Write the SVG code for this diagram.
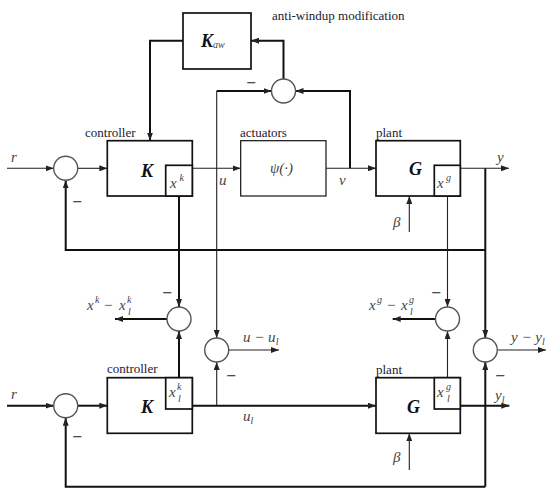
<svg xmlns="http://www.w3.org/2000/svg" width="552" height="489" viewBox="0 0 552 489">
<defs>
<marker id="ah" viewBox="0 0 8 6" refX="8" refY="3" markerWidth="8" markerHeight="6" markerUnits="userSpaceOnUse" orient="auto">
<path d="M0,0 L8,3 L0,6 z" fill="#222"/>
</marker>
</defs>
<style>
.box{fill:#fff;stroke:#111;stroke-width:1.7}
.thinbox{fill:#fff;stroke:#111;stroke-width:1.2}
.sum{fill:#fff;stroke:#555;stroke-width:1.4}
.w1{fill:none;stroke:#222;stroke-width:1.1}
.w2{fill:none;stroke:#111;stroke-width:2}
.lbl{font-family:"Liberation Serif","Times New Roman",serif;font-size:13px;fill:#1a1a33}
.m{font-family:"Liberation Serif","Times New Roman",serif;font-style:italic;font-size:15px;fill:#444}
.ms{font-family:"Liberation Serif","Times New Roman",serif;font-style:italic;font-size:10px;fill:#444}
.big{font-family:"Liberation Serif","Times New Roman",serif;font-style:italic;font-weight:bold;font-size:18px;fill:#111}
.minus{font-family:"DejaVu Sans",sans-serif;font-size:13px;fill:#222}
</style>

<g id="connectors">
<polyline class="w2" points="183,40.7 150,40.7 150,140.7" marker-end="url(#ah)"/>
<polyline class="w2" points="283.5,79 283.5,40.7 251,40.7" marker-end="url(#ah)"/>
<polyline class="w2" points="216.7,91 271.5,91" marker-end="url(#ah)"/>
<polyline class="w2" points="350,168.3 350,91 295.5,91" marker-end="url(#ah)"/>
<line class="w1" x1="7" y1="168.3" x2="53.7" y2="168.3" marker-end="url(#ah)"/>
<line class="w1" x1="77.7" y1="168.3" x2="107.3" y2="168.3" marker-end="url(#ah)"/>
<polyline class="w2" points="485.3,250 65.7,250 65.7,180.3" marker-end="url(#ah)"/>
<line class="w1" x1="192.3" y1="168.3" x2="240.7" y2="168.3" marker-end="url(#ah)"/>
<line class="w1" x1="216.7" y1="91" x2="216.7" y2="338" marker-end="url(#ah)"/>
<line class="w1" x1="326" y1="168.3" x2="376" y2="168.3" marker-end="url(#ah)"/>
<line class="w1" x1="460.3" y1="168.3" x2="509" y2="168.3" marker-end="url(#ah)"/>
<line class="w2" x1="485.3" y1="168.3" x2="485.3" y2="338" marker-end="url(#ah)"/>
<line class="w1" x1="409.3" y1="232" x2="409.3" y2="196" marker-end="url(#ah)"/>
<line class="w1" x1="447.5" y1="196" x2="447.5" y2="307" marker-end="url(#ah)"/>
<line class="w2" x1="179" y1="196" x2="179" y2="307" marker-end="url(#ah)"/>
<line class="w2" x1="167" y1="319" x2="115" y2="319" marker-end="url(#ah)"/>
<line class="w2" x1="179" y1="377.7" x2="179" y2="331" marker-end="url(#ah)"/>
<line class="w1" x1="228.7" y1="350" x2="279" y2="350" marker-end="url(#ah)"/>
<line class="w1" x1="216.7" y1="405.7" x2="216.7" y2="362" marker-end="url(#ah)"/>
<line class="w2" x1="435.5" y1="319" x2="392.7" y2="319" marker-end="url(#ah)"/>
<line class="w1" x1="447.5" y1="377.7" x2="447.5" y2="331" marker-end="url(#ah)"/>
<line class="w1" x1="497.3" y1="350" x2="546" y2="350" marker-end="url(#ah)"/>
<line class="w2" x1="485.3" y1="486.7" x2="485.3" y2="362" marker-end="url(#ah)"/>
<line class="w2" x1="7" y1="405.7" x2="53.7" y2="405.7" marker-end="url(#ah)"/>
<line class="w2" x1="77.7" y1="405.7" x2="107.3" y2="405.7" marker-end="url(#ah)"/>
<polyline class="w2" points="485.3,486.7 65.7,486.7 65.7,417.7" marker-end="url(#ah)"/>
<line class="w2" x1="192.3" y1="405.7" x2="376" y2="405.7" marker-end="url(#ah)"/>
<line class="w2" x1="460.3" y1="405.7" x2="509.3" y2="405.7" marker-end="url(#ah)"/>
<line class="w1" x1="409.3" y1="470" x2="409.3" y2="433.3" marker-end="url(#ah)"/>
</g>

<g id="Kaw">
<rect class="box" x="183" y="13" width="68" height="56"/>
<text class="big" x="201" y="47">K<tspan class="ms" dy="1" font-size="11" font-weight="normal">aw</tspan></text>
</g>
<text class="lbl" x="272" y="20" font-size="12">anti-windup modification</text>

<g id="sum_aw"><circle class="sum" cx="283.5" cy="91" r="12"/></g>
<text class="minus" x="246" y="87">−</text>

<g id="sum1"><circle class="sum" cx="65.7" cy="168.3" r="12"/></g>
<text class="m" x="11" y="162">r</text>
<text class="minus" x="72" y="206">−</text>

<g id="controller">
<rect class="box" x="107.3" y="140.7" width="85" height="55.3"/>
<rect class="box" x="165.7" y="165.3" width="26.6" height="30.7"/>
<text class="big" x="141" y="177">K</text>
<text class="m" x="170" y="188" font-size="13">x</text>
<text class="ms" x="179.5" y="181">k</text>
<text class="lbl" x="85" y="137">controller</text>
</g>
<text class="m" x="219" y="185">u</text>

<g id="actuators">
<rect class="thinbox" x="240.7" y="140.7" width="85.3" height="55.3"/>
<text class="m" x="270" y="173" font-style="normal">ψ(·)</text>
<text class="lbl" x="240" y="137">actuators</text>
</g>
<text class="m" x="339" y="185">v</text>

<g id="plant">
<rect class="box" x="376" y="140.7" width="84.3" height="55.3"/>
<rect class="box" x="434.3" y="165.3" width="26" height="30.7"/>
<text class="big" x="409" y="175">G</text>
<text class="m" x="437" y="188" font-size="13">x</text>
<text class="ms" x="446" y="181">g</text>
<text class="lbl" x="376" y="137">plant</text>
</g>
<text class="m" x="497" y="162">y</text>
<text class="m" x="393" y="227">β</text>

<g id="sum_xk"><circle class="sum" cx="179" cy="319" r="12"/></g>
<text class="minus" x="162" y="297">−</text>
<text class="m" x="87" y="310">x</text>
<text class="ms" x="95" y="303">k</text>
<text class="m" x="103" y="310" font-style="normal">−</text>
<text class="m" x="119" y="310">x</text>
<text class="ms" x="127" y="303">k</text>
<text class="ms" x="128" y="315">l</text>

<g id="sum_u"><circle class="sum" cx="216.7" cy="350" r="12"/></g>
<text class="m" x="243" y="342">u − u<tspan class="ms" dy="3">l</tspan></text>
<text class="minus" x="226" y="380">−</text>

<g id="sum_xg"><circle class="sum" cx="447.5" cy="319" r="12"/></g>
<text class="minus" x="431" y="297">−</text>
<text class="m" x="369" y="310">x</text>
<text class="ms" x="377" y="303">g</text>
<text class="m" x="386" y="310" font-style="normal">−</text>
<text class="m" x="401" y="310">x</text>
<text class="ms" x="409" y="303">g</text>
<text class="ms" x="410" y="315">l</text>

<g id="sum_y"><circle class="sum" cx="485.3" cy="350" r="12"/></g>
<text class="m" x="511" y="342">y − y<tspan class="ms" dy="3">l</tspan></text>
<text class="minus" x="495" y="380">−</text>

<g id="sum2"><circle class="sum" cx="65.7" cy="405.7" r="12"/></g>
<text class="m" x="11" y="399">r</text>
<text class="minus" x="72" y="441">−</text>

<g id="controller_l">
<rect class="box" x="107.3" y="377.7" width="85" height="55.6"/>
<rect class="box" x="165.7" y="377.7" width="26.6" height="31.3"/>
<text class="big" x="141" y="413">K</text>
<text class="m" x="169" y="397" font-size="13">x</text>
<text class="ms" x="177" y="390">k</text>
<text class="ms" x="178" y="402">l</text>
<text class="lbl" x="107" y="373">controller</text>
</g>
<text class="m" x="243" y="421">u<tspan class="ms" dy="3">l</tspan></text>

<g id="plant_l">
<rect class="box" x="376" y="377.7" width="84.3" height="55.6"/>
<rect class="box" x="434.3" y="377.7" width="26" height="31.3"/>
<text class="big" x="407" y="413">G</text>
<text class="m" x="437" y="397" font-size="13">x</text>
<text class="ms" x="446" y="390">g</text>
<text class="ms" x="447" y="402">l</text>
<text class="lbl" x="376" y="374">plant</text>
</g>
<text class="m" x="495" y="400">y<tspan class="ms" dy="3">l</tspan></text>
<text class="m" x="393" y="462">β</text>
</svg>
